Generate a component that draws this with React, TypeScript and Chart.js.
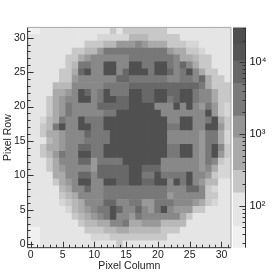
import React, { useEffect, useRef } from "react";
import { Chart, registerables } from "chart.js";

Chart.register(...registerables);

const FONT = "'Liberation Sans', Arial, sans-serif";

// Bands used by the cells, darkest is the highest count
const bandShades = ["#f0f0f0", "#e5e5e5", "#d6d6d6", "#c8c8c8", "#b8b8b8", "#aaaaaa", "#999999", "#888888", "#787878", "#686868", "#505050"];
const columns = Array.from({ length: 32 }, (_, i) => String(i));

const row00 = [0,0,1,1,1,1,1,1,1,1,1,1,1,1,3,1,1,1,1,1,1,1,1,1,1,1,1,1,1,1,1,1];
const row01 = [0,0,1,1,1,1,1,1,1,1,2,2,2,3,3,3,3,3,3,3,3,3,1,1,1,1,1,1,1,1,1,1];
const row02 = [0,0,1,1,1,1,1,1,1,3,3,3,4,4,5,5,4,4,4,4,4,3,3,3,1,1,1,1,1,1,1,1];
const row03 = [1,1,1,1,1,1,1,1,3,4,4,5,5,7,7,8,5,5,6,6,6,4,4,4,4,1,1,1,1,1,1,1];
const row04 = [1,1,1,1,1,1,1,3,4,5,6,7,8,10,7,7,6,8,7,7,7,7,7,7,5,3,1,1,1,1,1,1];
const row05 = [1,1,1,1,1,1,2,4,5,6,7,8,8,10,9,7,7,9,7,6,8,10,7,6,6,6,3,3,1,1,1,1];
const row06 = [1,1,1,1,1,2,3,4,5,7,7,7,9,9,7,7,8,8,6,6,8,8,8,7,7,7,6,5,3,2,1,1];
const row07 = [1,1,1,1,1,3,4,5,7,7,7,7,8,8,8,8,8,8,8,8,8,8,6,7,7,7,7,7,3,3,1,1];
const row08 = [1,1,1,1,1,4,5,7,7,9,7,7,8,8,8,8,8,8,8,8,8,8,7,7,7,9,9,7,3,2,1,1];
const row09 = [1,1,1,1,3,5,6,7,10,10,7,7,10,10,9,9,10,10,9,9,10,10,7,10,8,10,7,6,4,4,1,1];
const row10 = [1,1,1,1,5,5,7,7,9,9,7,9,9,9,9,9,10,10,8,8,10,8,8,8,8,10,7,7,6,3,2,2];
const row11 = [1,1,1,3,5,6,7,7,7,7,6,9,9,9,9,9,10,10,9,9,9,7,7,7,7,7,7,6,7,5,2,2];
const row12 = [1,1,1,3,5,7,7,7,9,9,6,8,8,8,8,10,10,10,10,10,10,7,7,7,7,7,7,6,8,7,3,2];
const row13 = [1,1,3,4,6,8,7,7,10,10,8,8,10,10,10,10,10,10,10,10,10,10,8,8,10,10,7,6,8,10,6,3];
const row14 = [1,1,3,5,5,6,7,7,9,9,8,8,10,10,10,10,10,10,10,10,10,10,8,8,10,10,7,6,8,10,7,3];
const row15 = [1,1,1,4,5,6,7,7,7,8,8,8,8,10,10,10,10,10,10,10,10,10,7,7,7,7,7,6,8,8,5,2];
const row16 = [1,1,3,5,5,6,7,7,7,9,8,8,8,10,10,10,10,10,10,10,10,10,7,7,7,7,7,6,8,8,5,2];
const row17 = [1,1,3,4,8,10,7,7,10,10,8,8,10,10,10,10,10,10,10,10,10,10,8,8,10,10,7,7,10,10,6,3];
const row18 = [1,1,2,4,5,8,7,7,10,8,8,8,10,10,10,10,10,10,10,10,10,10,7,7,10,10,7,7,8,10,5,3];
const row19 = [1,1,1,3,5,6,8,7,7,7,7,7,8,8,10,10,10,10,10,10,10,7,7,7,7,7,7,7,10,6,3,2];
const row20 = [1,1,1,3,5,6,8,7,7,7,7,9,9,9,9,9,10,10,10,10,7,7,7,10,7,10,7,6,8,6,3,2];
const row21 = [1,1,1,3,5,6,7,7,10,10,7,8,10,10,9,9,10,10,9,9,10,10,8,9,10,10,8,7,7,5,3,3];
const row22 = [1,1,1,1,5,5,6,7,10,9,7,8,10,8,8,8,10,10,9,9,10,10,9,9,10,10,8,7,7,5,3,3];
const row23 = [1,1,1,1,4,4,4,7,7,7,7,7,8,8,8,8,9,9,9,9,9,9,9,9,9,9,9,8,5,3,3,3];
const row24 = [1,1,1,1,1,3,3,6,7,7,7,7,7,7,9,9,8,8,8,8,8,8,7,7,8,8,7,9,5,3,3,1];
const row25 = [1,1,1,1,1,3,3,5,9,10,7,7,10,10,7,9,10,10,10,8,10,10,9,7,8,10,7,5,3,3,1,1];
const row26 = [1,1,1,1,1,1,3,4,8,8,7,7,10,10,7,7,10,10,8,8,10,10,8,7,9,7,5,3,3,1,1,1];
const row27 = [1,1,1,1,1,1,3,3,5,6,7,7,7,7,7,7,8,8,8,8,8,8,8,7,5,5,4,3,3,1,1,1];
const row28 = [1,1,1,1,1,1,1,3,3,4,4,6,8,8,8,8,8,8,8,8,8,8,6,5,5,3,3,2,1,1,1,1];
const row29 = [1,1,1,1,1,1,1,1,1,3,3,3,4,4,6,6,6,7,6,5,5,5,3,3,3,2,2,1,1,1,1,1];
const row30 = [1,1,1,1,1,1,1,1,1,1,1,2,2,2,2,2,4,4,4,3,3,3,3,3,1,1,1,1,1,1,1,1];
const row31 = [0,0,1,1,1,1,1,1,1,1,1,1,1,3,1,3,3,3,3,3,3,3,1,1,1,1,1,1,1,1,1,1];
const rows = [row00,row01,row02,row03,row04,row05,row06,row07,row08,row09,row10,row11,row12,row13,row14,row15,row16,row17,row18,row19,row20,row21,row22,row23,row24,row25,row26,row27,row28,row29,row30,row31];

// Colour bar
const scaleEdges = [26, 51, 151, 310, 885, 1770, 5080, 10430, 17800, 30500];
const scaleShades = ["#f0f0f0", "#e5e5e5", "#c6c6c6", "#aaaaaa", "#959595", "#7a7a7a", "#676767", "#555555", "#4e4e4e"];

const TICK = "#333333";

const heatFrame = {
  id: "heatFrame",
  afterDatasetsDraw(chart: any) {
    const { ctx, chartArea: a, scales } = chart;
    ctx.save();
    ctx.lineWidth = 1;
    ctx.strokeStyle = TICK;
    ctx.beginPath();
    scales.x.ticks.forEach((_: any, i: number) => {
      const p = Math.round(scales.x.getPixelForTick(i)) + 0.5;
      ctx.moveTo(p, a.bottom);
      ctx.lineTo(p, a.bottom - (i % 5 === 0 ? 6 : 3));
    });
    scales.y.ticks.forEach((t: any, i: number) => {
      const p = Math.round(scales.y.getPixelForTick(i)) + 0.5;
      ctx.moveTo(a.left, p);
      ctx.lineTo(a.left + (t.value % 5 === 0 ? 6 : 3), p);
    });
    ctx.moveTo(a.left, a.top);
    ctx.lineTo(a.left, a.bottom);
    ctx.lineTo(a.right, a.bottom);
    ctx.stroke();
    ctx.strokeStyle = "#a8a8a8";
    ctx.beginPath();
    ctx.moveTo(a.left, a.top);
    ctx.lineTo(a.right, a.top);
    ctx.lineTo(a.right, a.bottom);
    ctx.stroke();
    ctx.restore();
  },
};

const barFrame = {
  id: "barFrame",
  afterDatasetsDraw(chart: any) {
    const { ctx, chartArea: a, scales } = chart;
    ctx.save();
    ctx.lineWidth = 1;
    ctx.strokeStyle = TICK;
    ctx.beginPath();
    scales.y.ticks.forEach((t: any, i: number) => {
      const e = Math.floor(Math.log10(t.value) + 1e-9);
      const m = t.value / Math.pow(10, e);
      if (Math.abs(m - Math.round(m)) > 1e-6) return;
      const p = Math.round(scales.y.getPixelForTick(i)) + 0.5;
      ctx.moveTo(a.right, p);
      ctx.lineTo(a.right - (Math.round(m) === 1 ? 6 : 3), p);
    });
    ctx.moveTo(a.right, a.top);
    ctx.lineTo(a.right, a.bottom);
    ctx.stroke();
    ctx.strokeStyle = "#a8a8a8";
    ctx.beginPath();
    ctx.moveTo(a.left, a.top);
    ctx.lineTo(a.right, a.top);
    ctx.stroke();
    ctx.restore();
  },
};

const SUP: Record<string, string> = { "2": "²", "3": "³", "4": "⁴" };

export default function App() {
  const heatRef = useRef<HTMLCanvasElement>(null);
  const barRef = useRef<HTMLCanvasElement>(null);

  useEffect(() => {
    const heat = new Chart(heatRef.current as any, {
      type: "bar",
      data: {
        labels: columns,
        datasets: rows.map((row, r) => ({
          data: row.map(() => [r - 0.5, r + 0.5]),
          backgroundColor: row.map((b) => bandShades[b]),
          borderWidth: 0,
          grouped: false,
          barPercentage: 1,
          categoryPercentage: 1,
        })) as any,
      },
      options: {
        animation: false,
        responsive: false,
        layout: { padding: { top: 27.4, right: 45, left: 0, bottom: 0 } },
        plugins: { legend: { display: false }, tooltip: { enabled: false } },
        scales: {
          x: {
            afterFit: (s: any) => { s.height = 27.3; },
            grid: { display: false, drawTicks: false },
            border: { display: false },
            ticks: {
              autoSkip: false,
              maxRotation: 0,
              padding: 1,
              color: "#222",
              font: { family: FONT, size: 10.5 },
              callback: (_: any, i: number) => (i % 5 === 0 ? String(i) : ""),
            },
            title: { display: true, text: "Pixel Column", color: "#222", font: { family: FONT, size: 10.5 }, padding: { top: 0, bottom: 3 } },
          },
          y: {
            min: -0.5,
            max: 31.5,
            afterFit: (s: any) => { s.width = 27.6; },
            afterBuildTicks: (s: any) => {
              s.ticks = columns.map((c) => ({ value: Number(c) }));
            },
            grid: { display: false, drawTicks: false },
            border: { display: false },
            ticks: {
              autoSkip: false,
              padding: 2,
              color: "#222",
              font: { family: FONT, size: 10.5 },
              callback: (v: any) => (Number(v) % 5 === 0 ? String(v) : ""),
            },
            title: { display: true, text: "Pixel Row", color: "#222", font: { family: FONT, size: 10.5 }, padding: { top: 2, bottom: 0 } },
          },
        },
      },
      plugins: [heatFrame],
    } as any);

    const bar = new Chart(barRef.current as any, {
      type: "bar",
      data: {
        labels: ["counts"],
        datasets: scaleShades.map((shade, i) => ({
          data: [[scaleEdges[i], scaleEdges[i + 1]]],
          backgroundColor: shade,
          borderWidth: 0,
          grouped: false,
          barPercentage: 1,
          categoryPercentage: 1,
        })) as any,
      },
      options: {
        animation: false,
        responsive: false,
        layout: { padding: { top: 27.4, right: 0, left: 233, bottom: 27.3 } },
        plugins: { legend: { display: false }, tooltip: { enabled: false } },
        scales: {
          x: { display: false },
          y: {
            type: "logarithmic",
            position: "right",
            min: scaleEdges[0],
            max: scaleEdges[scaleEdges.length - 1],
            afterFit: (s: any) => { s.width = 30.5; },
            grid: { display: false, drawTicks: false },
            border: { display: false },
            ticks: {
              autoSkip: false,
              padding: 4,
              color: "#111",
              font: { family: FONT, size: 11 },
              callback: (v: any) => {
                const e = Math.log10(Number(v));
                return Math.abs(e - Math.round(e)) < 1e-9 ? "10" + SUP[String(Math.round(e))] : "";
              },
            },
          },
        },
      },
      plugins: [barFrame],
    } as any);

    return () => {
      heat.destroy();
      bar.destroy();
    };
  }, []);

  const style: React.CSSProperties = { position: "absolute", left: 0, top: 0 };
  return (
    <div style={{ position: "fixed", left: 0, top: 0, width: 276, height: 275, background: "#fff" }}>
      <canvas ref={heatRef} width={276} height={275} style={style} />
      <canvas ref={barRef} width={276} height={275} style={style} />
    </div>
  );
}
